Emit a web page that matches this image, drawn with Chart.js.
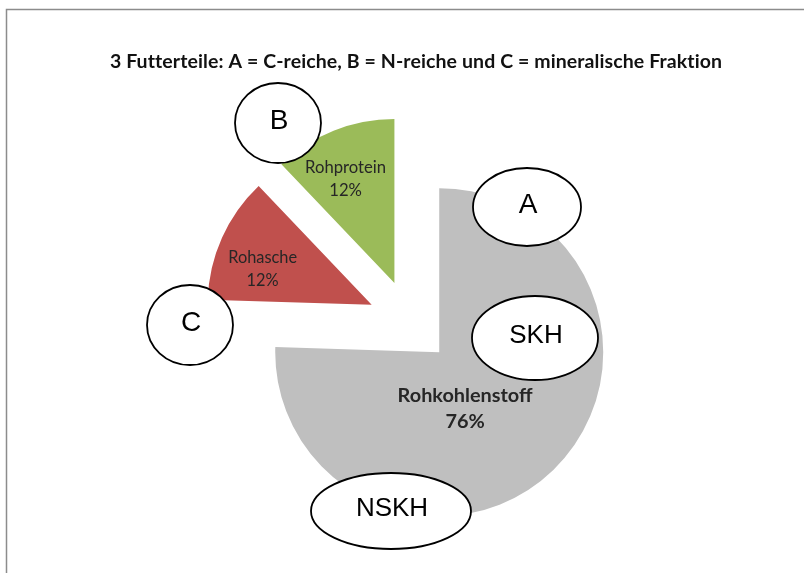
<!DOCTYPE html>
<html>
<head>
<meta charset="utf-8">
<script src="https://cdn.jsdelivr.net/npm/chart.js@4"></script>
<style>
  html, body { margin: 0; padding: 0; background: #fff; }
  canvas { display: block; }
</style>
</head>
<body>
<canvas id="pie-chart" width="804" height="573"></canvas>
<script>
// data
const labels = ['Rohkohlenstoff', 'Rohasche', 'Rohprotein'];
const values = [75.5, 12.4, 12.1];
const colors = ['#BFBFBF', '#C0504D', '#9BBB59'];

const titleText = '3 Futterteile: A = C-reiche, B = N-reiche und C = mineralische Fraktion';

// hand drawn callouts on top of the chart
const callouts = [
    { text: 'B', x: 278, y: 123, rx: 43, ry: 40, size: 28 },
    { text: 'A', x: 527, y: 207, rx: 54, ry: 39, size: 28 },
    { text: 'SKH', x: 535, y: 338, rx: 63, ry: 42, size: 26 },
    { text: 'C', x: 190, y: 325, rx: 43, ry: 40, size: 28 },
    { text: 'NSKH', x: 391, y: 511, rx: 80, ry: 38, size: 26 },
];

const explodeDist = 42;
// label placement: fraction of radius and turn from the slice middle (deg)
const labelFrac = [0.38, 0.70, 0.70];
const labelTurn = [19.6, -5.9, -3.4];
const labelWidth = [135, 69, 81];
const labelBold = [true, false, false];

function fitFont(ctx, text, width, weight, family) {
    ctx.font = weight + ' 20px ' + family;
    let size = 20 * width / ctx.measureText(text).width;
    return weight + ' ' + size.toFixed(2) + 'px ' + family;
}

const explode = {
    id: 'explode',
    beforeDatasetDraw(chart, args) {
        const ctx = chart.ctx;
        args.meta.data.forEach(arc => {
            const mid = (arc.startAngle + arc.endAngle) / 2;
            ctx.save();
            ctx.translate(Math.cos(mid) * explodeDist, Math.sin(mid) * explodeDist);
            arc.draw(ctx);
            ctx.restore();
        });
        return false;
    },
    afterDatasetsDraw(chart) {
        const ctx = chart.ctx;
        const meta = chart.getDatasetMeta(0);
        const total = values.reduce((a, b) => a + b, 0);
        meta.data.forEach((arc, i) => {
            const mid = (arc.startAngle + arc.endAngle) / 2;
            const cx = arc.x + Math.cos(mid) * explodeDist;
            const cy = arc.y + Math.sin(mid) * explodeDist;
            const a = mid + labelTurn[i] * Math.PI / 180;
            const r = arc.outerRadius * labelFrac[i];
            const x = cx + Math.cos(a) * r;
            const y = cy + Math.sin(a) * r;
            const weight = labelBold[i] ? 'bold' : 'normal';
            ctx.save();
            ctx.fillStyle = '#262626';
            ctx.textAlign = 'center';
            ctx.textBaseline = 'middle';
            ctx.font = fitFont(ctx, labels[i], labelWidth[i], weight, 'Lato');
            const gap = labelBold[i] ? 13 : 11.5;
            ctx.fillText(labels[i], x, y - gap);
            ctx.fillText(Math.round(values[i] / total * 100) + '%', x, y + gap);
            ctx.restore();
        });
    },
    afterDraw(chart) {
        const ctx = chart.ctx;
        ctx.save();
        // frame
        ctx.strokeStyle = '#8c8c8c';
        ctx.lineWidth = 1.5;
        ctx.strokeRect(6.5, 9.5, 900, 700);
        // title (small letter spacing keeps the "ti" ligature away)
        ctx.fillStyle = '#111';
        ctx.textAlign = 'center';
        ctx.textBaseline = 'middle';
        ctx.letterSpacing = '0.1px';
        ctx.font = fitFont(ctx, titleText, 612, 'bold', 'Lato');
        ctx.fillText(titleText, 416, 62);
        ctx.letterSpacing = '0px';
        // callouts
        callouts.forEach(c => {
            ctx.beginPath();
            ctx.ellipse(c.x, c.y, c.rx, c.ry, 0, 0, Math.PI * 2);
            ctx.fillStyle = '#fff';
            ctx.fill();
            ctx.lineWidth = 1.8;
            ctx.strokeStyle = '#000';
            ctx.stroke();
            ctx.fillStyle = '#000';
            ctx.font = c.size + 'px "Liberation Sans"';
            ctx.fillText(c.text, c.x + 1, c.y - 2);
        });
        ctx.restore();
    }
};

let config = {
    type: 'pie',
    data: {
        labels: labels,
        datasets: [{
            data: values,
            backgroundColor: colors,
            borderWidth: 0
        }]
    },
    options: {
        responsive: false,
        animation: false,
        layout: {
            padding: { left: 246, right: 230, top: 158, bottom: 87 }
        },
        plugins: {
            legend: { display: false },
            title: { display: false },
            tooltip: { enabled: false }
        }
    },
    plugins: [explode]
};

let ctx = document.getElementById('pie-chart').getContext('2d');
window.myPie = new Chart(ctx, config);
</script>
</body>
</html>
